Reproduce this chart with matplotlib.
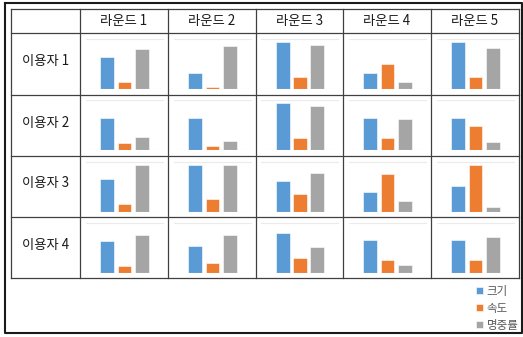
import matplotlib.pyplot as plt
from matplotlib.patches import Patch

plt.rcParams['font.family'] = ['Noto Sans CJK KR', 'DejaVu Sans']

rounds = ['라운드 1', '라운드 2', '라운드 3', '라운드 4', '라운드 5']
users = ['이용자 1', '이용자 2', '이용자 3', '이용자 4']
series = ['크기', '속도', '명중률']
colors = ['#5B9BD5', '#ED7D31', '#A5A5A5']

# values read relative to each mini chart's top gridline (=100)
size = [[65, 33, 94, 32, 94],
        [65, 65, 94, 65, 64],
        [65, 93, 61, 40, 51],
        [64, 53, 80, 66, 66]]
speed = [[14, 5, 25, 50, 25],
         [14, 9, 25, 24, 48],
         [15, 25, 35, 75, 93],
         [14, 20, 29, 25, 25]]
accuracy = [[81, 87, 89, 15, 83],
            [26, 19, 88, 62, 16],
            [93, 93, 78, 21, 9],
            [75, 75, 52, 15, 71]]

W, H = 523, 337
fig = plt.figure(figsize=(W / 100, H / 100), dpi=100)

bg = fig.add_axes([0, 0, 1, 1])
bg.set_xlim(0, W)
bg.set_ylim(H, 0)
bg.axis('off')

# outer frame
bg.plot([4.5, 521.5, 521.5, 4.5, 4.5], [3, 3, 333, 333, 3], color='#1a1a1a', lw=1.5)

col_edges = [11, 80, 168, 256, 343, 431, 519]
row_edges = [9, 33, 95, 156, 217, 278]
for x in col_edges:
    bg.plot([x, x], [row_edges[0], row_edges[-1]], color='#404040', lw=0.9)
for y in row_edges:
    bg.plot([col_edges[0], col_edges[-1]], [y, y], color='#404040', lw=0.9)

for c, name in enumerate(rounds):
    xc = (col_edges[c + 1] + col_edges[c + 2]) / 2
    bg.text(xc, (row_edges[0] + row_edges[1]) / 2, name, ha='center', va='center',
            fontsize=9.6, color='#1a1a1a')
for r, name in enumerate(users):
    yc = (row_edges[r + 1] + row_edges[r + 2]) / 2 - 3
    bg.text((col_edges[0] + col_edges[1]) / 2 + 0.5, yc, name, ha='center', va='center',
            fontsize=9.6, color='#1a1a1a')

cw, ch = 78, 50
for r in range(len(users)):
    for c in range(len(rounds)):
        xc = (col_edges[c + 1] + col_edges[c + 2]) / 2
        yc = (row_edges[r + 1] + row_edges[r + 2]) / 2
        left = xc - cw / 2 + 0.5
        top = yc - ch / 2
        ax = fig.add_axes([left / W, 1 - (top + ch) / H, cw / W, ch / H])
        ax.set_facecolor('none')
        vals = [size[r][c], speed[r][c], accuracy[r][c]]
        ax.bar(range(3), vals, width=0.8, color=colors, edgecolor='white', linewidth=0.4)
        ax.axhline(100, color='#ebebeb', lw=0.8)
        ax.axhline(0, color='#dcdcdc', lw=0.8)
        ax.set_xlim(-1.23, 3.23)
        ax.set_ylim(0, 100)
        ax.axis('off')

handles = [Patch(facecolor=col, edgecolor='white', linewidth=0.4) for col in colors]
leg = fig.legend(handles, series, loc='upper left', bbox_to_anchor=(470 / W, 1 - 279 / H),
                 frameon=False, fontsize=8.3, handlelength=0.6, handleheight=0.6,
                 handletextpad=0.35, labelspacing=0.35, borderpad=0)
for t in leg.get_texts():
    t.set_color('#595959')

fig.savefig('out.png', dpi=100)
